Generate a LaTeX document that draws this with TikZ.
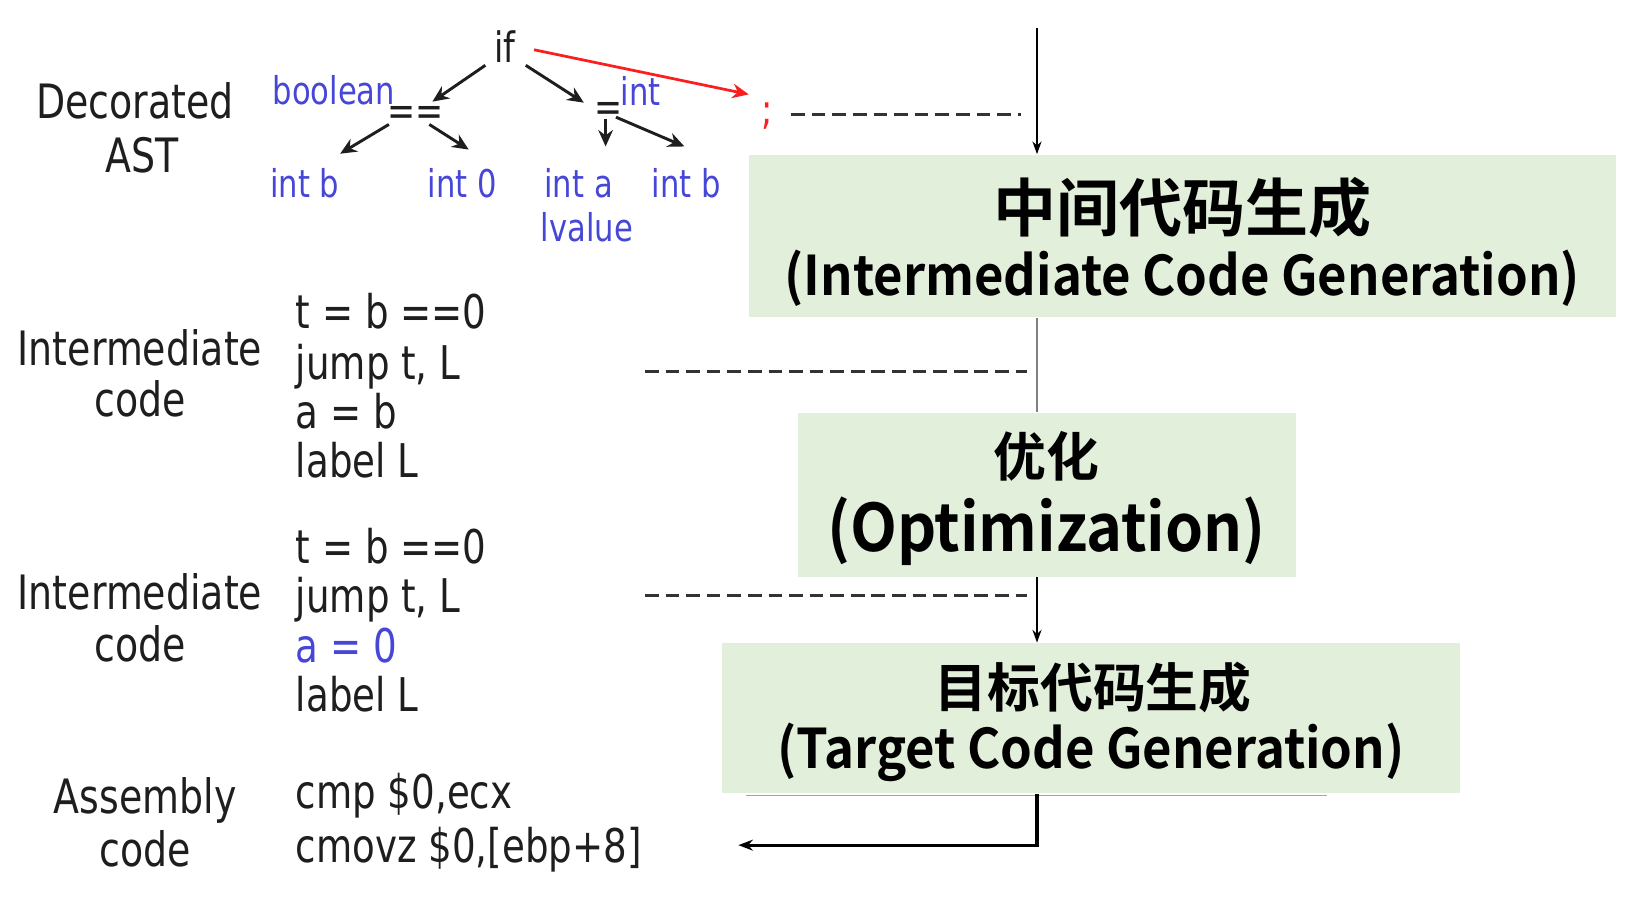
\documentclass[tikz,border=0pt]{standalone}
\usepackage{fontspec}
\usetikzlibrary{arrows.meta,calc}
\newfontfamily\labfont{DejaVu Sans}[FakeStretch=0.8]
\newfontfamily\cjkfont{Noto Sans CJK SC Bold}
\newfontfamily\cjklat{Noto Sans CJK SC Bold}[FakeStretch=0.93]
\definecolor{boxgreen}{RGB}{226,239,218}
\definecolor{astblue}{RGB}{70,70,215}
\definecolor{astred}{RGB}{250,30,30}
\definecolor{ink}{RGB}{30,30,30}
\begin{document}
\begin{tikzpicture}[x=0.02cm,y=-0.02cm,
 lab/.style={inner sep=0, anchor=base, font=\labfont\fontsize{26}{30}\selectfont, text=ink},
 codeline/.style={inner sep=0, anchor=base west, font=\labfont\fontsize{25.5}{30}\selectfont, text=ink},
 astlab/.style={inner sep=0, anchor=base, font=\labfont\fontsize{21}{24}\selectfont, text=astblue},
 astop/.style={inner sep=0, font=\labfont\fontsize{23}{26}\selectfont, text=ink},
 astarrow/.style={-{Stealth[length=9pt,width=8pt]}, line width=1.6pt, ink},
 redarrow/.style={-{Stealth[length=9pt,width=8pt]}, line width=1.5pt, astred},
 phase/.style={fill=boxgreen, draw=none, inner sep=0},
 cjkbig/.style={inner sep=0, font=\cjkfont\fontsize{34.6}{40}\selectfont},
 cjkmid/.style={inner sep=0, font=\cjkfont\fontsize{29}{34}\selectfont},
 latbig/.style={inner sep=0, font=\cjklat\fontsize{30}{36}\selectfont},
 dashline/.style={dash pattern=on 7.5pt off 3.8pt, line width=1.6pt, black!80},
 flow/.style={line width=0.9pt, black},
 flowtip/.style={flow, -{Stealth[length=7pt,width=5pt]}},
 ]
\useasboundingbox (0,0) rectangle (1568,868);

% ---------- phase boxes ----------
\node[phase, minimum width=16.72cm, minimum height=3.14cm] (box1) at (1140,227.5) {};
\node[phase, minimum width=9.62cm, minimum height=3.16cm] (box2) at (1009.5,477) {};
\node[phase, minimum width=14.24cm, minimum height=2.90cm] (box3) at (1052,692.5) {};
\node[cjkbig] (t1a) at (1140,200) {中间代码生成};
\node[latbig] (t1b) at (1140,268) {(Intermediate Code Generation)};
\node[cjkmid] (t2a) at (1009,440) {优化};
\node[latbig, font=\cjklat\fontsize{36}{42}\selectfont] (t2b) at (1009,512) {(Optimization)};
\node[cjkmid] (t3a) at (1054,663) {目标代码生成};
\node[latbig] (t3b) at (1052,726) {(Target Code Generation)};
\draw[gray!70, line width=0.8pt] ($(box3.south west)+(24,2)$) -- ($(box3.south west)+(584,2)$);

% ---------- main flow ----------
\coordinate (top) at (1000,27);
\coordinate (asmend) at (712,815);
\draw[flowtip] (top) -- (top |- box1.north);
\draw[flow, gray] (box1.south -| top) -- (box2.north -| top);
\draw[flowtip] (box2.south -| top) -- (box3.north -| top);
\draw[line width=1.8pt, black, -{Stealth[length=8pt,width=6pt]}] (box3.south -| top) |- (asmend);

% ---------- left labels ----------
\node[lab] (dec1) at (130,114) {Decorated};
\node[lab] (dec2) at (137,166) {AST};
\node[lab] (im1) at (135,352) {Intermediate};
\node[lab] (im2) at (135,402) {code};
\node[lab] (im3) at (135,588) {Intermediate};
\node[lab] (im4) at (135,638) {code};
\node[lab] (as1) at (140,784) {Assembly};
\node[lab] (as2) at (140,836) {code};

% ---------- code lines ----------
\node[codeline] (c1) at (285,317) {t = b ==0};
\node[codeline] (c2) at (285,366) {jump t, L};
\node[codeline] (c3) at (285,413) {a = b};
\node[codeline] (c4) at (285,460) {label L};
\node[codeline] (d1) at (285,543) {t = b ==0};
\node[codeline] (d2) at (285,591) {jump t, L};
\node[codeline, text=astblue] (d3) at (285,639) {a = 0};
\node[codeline] (d4) at (285,686) {label L};
\node[codeline] (e1) at (285,780) {cmp \$0,ecx};
\node[codeline] (e2) at (285,832) {cmovz \$0,[ebp+8]};

% ---------- dashed guides ----------
\coordinate (g1) at (985,110);
\coordinate (g2s) at (622,358);
\coordinate (g2) at (990,358);
\coordinate (g3s) at (622,574);
\coordinate (g3) at (990,574);

% ---------- AST ----------
\node[astop] (if) at (487,45) {if};
\node[astop] (eqeq) at (401,112) {==};
\node[astop] (eq) at (587,108) {=};
\node[astop, text=astred] (semi) at (740,112) {;};
\node[astlab] (bool) at (322,101) {boolean};
\node[astlab] (tint) at (618,102) {int};
\node[astlab] (lb) at (294,190) {int b};
\node[astlab] (l0) at (446,190) {int 0};
\node[astlab] (la) at (558,190) {int a};
\node[astlab] (lb2) at (662,190) {int b};
\node[astlab] (lv) at (566,233) {lvalue};

\draw[dashline] ($(semi)+(23,-2)$) -- (g1);
\draw[dashline] (g2s) -- (g2);
\draw[dashline] (g3s) -- (g3);

\draw[astarrow] ($(if)+(-19,18)$) -- ($(eqeq)+(16,-14)$);
\draw[astarrow] ($(if)+(20,18)$) -- ($(eq)+(-24,-9)$);
\draw[astarrow] ($(eqeq)+(-26,8)$) -- ($(lb)+(34,-28)$);
\draw[astarrow] ($(eqeq)+(13,8)$) -- ($(l0)+(6,-32)$);
\draw[astarrow] ($(eq)+(-3,7)$) -- ($(la)+(26,-35)$);
\draw[astarrow] ($(eq)+(7,5)$) -- ($(lb2)+(-2,-35)$);
\draw[redarrow] ($(if)+(28,3)$) -- ($(semi)+(-18,-21)$);
\end{tikzpicture}
\end{document}
